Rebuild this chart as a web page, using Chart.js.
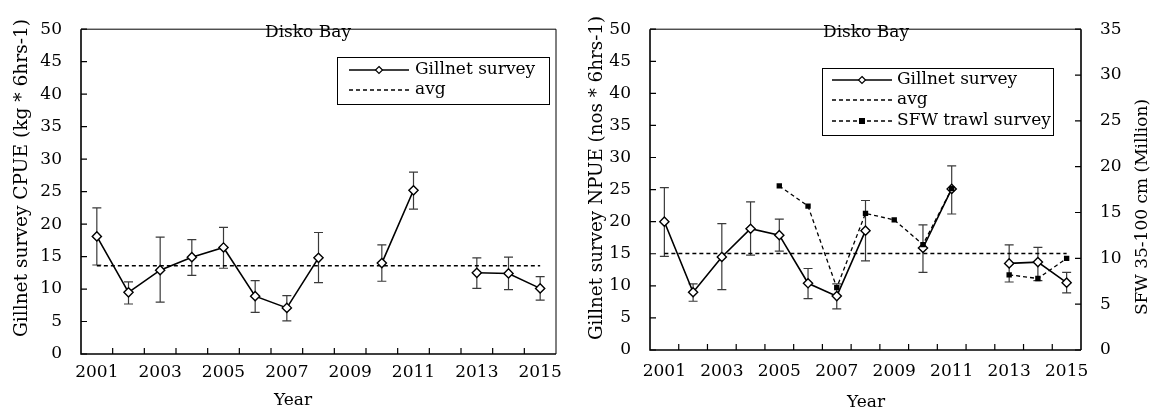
<!DOCTYPE html>
<html>
<head>
<meta charset="utf-8">
<title>Disko Bay gillnet survey</title>
<script src="https://cdn.jsdelivr.net/npm/chart.js@4.4.1/dist/chart.umd.min.js"></script>
<style>
    html, body { margin: 0; padding: 0; background: #fff; }
    #wrap { position: relative; width: 1156px; height: 414px; }
    .panel { position: absolute; top: 0; width: 578px; height: 414px; }
</style>
</head>
<body>
<div id="wrap">
    <div class="panel" style="left:0"><canvas id="cpueChart" width="578" height="414"></canvas></div>
    <div class="panel" style="left:578px"><canvas id="npueChart" width="578" height="414"></canvas></div>
</div>
<script>
"use strict";

var years = ['2001', '2002', '2003', '2004', '2005', '2006', '2007', '2008',
    '2009', '2010', '2011', '2012', '2013', '2014', '2015'];

// left panel - CPUE (kg * 6hrs-1)
var cpue = [18.1, 9.5, 12.9, 14.9, 16.4, 8.9, 7.1, 14.8, null, 14.0, 25.2, null, 12.5, 12.4, 10.1];
var cpueLow = [13.7, 7.7, 8.0, 12.1, 13.2, 6.4, 5.1, 11.0, null, 11.2, 22.3, null, 10.1, 9.9, 8.3];
var cpueHigh = [22.5, 11.1, 18.0, 17.6, 19.5, 11.3, 9.0, 18.7, null, 16.8, 28.0, null, 14.8, 14.9, 11.9];
var cpueAvg = [13.6, 13.6, 13.6, 13.6, 13.6, 13.6, 13.6, 13.6, 13.6, 13.6, 13.6, 13.6, 13.6, 13.6, 13.6];

// right panel - NPUE (nos * 6hrs-1) and SFW trawl index (Million)
var npue = [20.0, 9.0, 14.5, 18.9, 17.9, 10.4, 8.4, 18.6, null, 15.9, 25.1, null, 13.5, 13.7, 10.5];
var npueLow = [14.6, 7.6, 9.4, 14.8, 15.4, 8.0, 6.4, 13.9, null, 12.1, 21.2, null, 10.6, 10.8, 8.9];
var npueHigh = [25.3, 10.3, 19.7, 23.1, 20.4, 12.7, 10.3, 23.3, null, 19.5, 28.7, null, 16.4, 16.0, 12.1];
var npueAvg = [15.05, 15.05, 15.05, 15.05, 15.05, 15.05, 15.05, 15.05, 15.05, 15.05, 15.05, 15.05, 15.05, 15.05, 15.05];
var sfw = [null, null, null, null, 17.9, 15.7, 6.8, 14.9, 14.2, 11.5, 17.6, null, 8.2, 7.8, 10.0];

var leftTicks = [0, 5, 10, 15, 20, 25, 30, 35, 40, 45, 50];
var rightTicks = [0, 5, 10, 15, 20, 25, 30, 35];

var FONT = '"DejaVu Serif", "Liberation Serif", serif';
Chart.defaults.font.family = FONT;
Chart.defaults.font.size = 17;
Chart.defaults.color = '#000';

// error bars, inward tick marks, frame, texts and the boxed legend
var surveyDecor = {
    id: 'surveyDecor',
    beforeDatasetsDraw: function (chart, args, opts) {
        var ctx = chart.ctx;
        var xs = chart.scales.x;
        (opts.errors || []).forEach(function (err) {
            var ys = chart.scales[err.axis];
            ctx.save();
            ctx.strokeStyle = '#3a3a3a';
            ctx.lineWidth = 1.2;
            err.low.forEach(function (lo, i) {
                if (lo === null) return;
                var x = xs.getPixelForValue(i);
                var y1 = ys.getPixelForValue(lo);
                var y2 = ys.getPixelForValue(err.high[i]);
                ctx.beginPath();
                ctx.moveTo(x, y1); ctx.lineTo(x, y2);
                ctx.moveTo(x - 4.5, y1); ctx.lineTo(x + 4.5, y1);
                ctx.moveTo(x - 4.5, y2); ctx.lineTo(x + 4.5, y2);
                ctx.stroke();
            });
            ctx.restore();
        });
    },
    afterDraw: function (chart, args, opts) {
        var ctx = chart.ctx;
        var a = chart.chartArea;
        var xs = chart.scales.x;
        ctx.save();

        // frame
        ctx.strokeStyle = '#000';
        ctx.lineWidth = 1;
        ctx.beginPath();
        ctx.moveTo(a.left, a.top); ctx.lineTo(a.right, a.top);
        if (!chart.scales.y1) { ctx.lineTo(a.right, a.bottom); }
        ctx.stroke();
        ctx.lineWidth = 1.6;
        ctx.beginPath();
        ctx.moveTo(a.left, a.top); ctx.lineTo(a.left, a.bottom); ctx.lineTo(a.right, a.bottom);
        if (chart.scales.y1) { ctx.moveTo(a.right, a.top); ctx.lineTo(a.right, a.bottom); }
        ctx.stroke();

        // inward tick marks
        ctx.lineWidth = 1.2;
        ctx.beginPath();
        for (var i = 1; i < years.length; i++) {
            var bx = (xs.getPixelForValue(i - 1) + xs.getPixelForValue(i)) / 2;
            ctx.moveTo(bx, a.bottom); ctx.lineTo(bx, a.bottom - 6);
        }
        chart.scales.y.ticks.forEach(function (t) {
            var ty = chart.scales.y.getPixelForValue(t.value);
            ctx.moveTo(a.left, ty); ctx.lineTo(a.left + 6, ty);
        });
        if (chart.scales.y1) {
            chart.scales.y1.ticks.forEach(function (t) {
                var ty = chart.scales.y1.getPixelForValue(t.value);
                ctx.moveTo(a.right, ty); ctx.lineTo(a.right - 6, ty);
            });
        }
        ctx.stroke();

        // titles and labels
        ctx.fillStyle = '#000';
        (opts.texts || []).forEach(function (t) {
            ctx.save();
            ctx.font = (t.size || 17) + 'px ' + FONT;
            ctx.translate(t.x, t.y);
            if (t.rotate) ctx.rotate(t.rotate);
            ctx.textAlign = 'center';
            ctx.textBaseline = t.baseline || 'alphabetic';
            ctx.fillText(t.text, 0, 0);
            ctx.restore();
        });

        // legend box
        var lg = opts.legend;
        if (lg) {
            ctx.fillStyle = '#fff';
            ctx.fillRect(lg.x, lg.y, lg.w, lg.h);
            ctx.strokeStyle = '#000';
            ctx.lineWidth = 1;
            ctx.strokeRect(lg.x + 0.5, lg.y + 0.5, lg.w, lg.h);
            lg.rows.forEach(function (dsIndex, r) {
                var ds = chart.data.datasets[dsIndex];
                var ry = lg.rowY[r];
                ctx.save();
                ctx.strokeStyle = '#000';
                ctx.lineWidth = 1.4;
                ctx.setLineDash(ds.borderDash || []);
                ctx.beginPath();
                ctx.moveTo(lg.x0, ry); ctx.lineTo(lg.x1, ry);
                ctx.stroke();
                ctx.setLineDash([]);
                var mx = (lg.x0 + lg.x1) / 2;
                if (ds.pointStyle === 'rectRot') {
                    ctx.fillStyle = '#fff';
                    ctx.lineWidth = 1.2;
                    ctx.beginPath();
                    ctx.moveTo(mx, ry - 3.5); ctx.lineTo(mx + 3.5, ry);
                    ctx.lineTo(mx, ry + 3.5); ctx.lineTo(mx - 3.5, ry);
                    ctx.closePath();
                    ctx.fill(); ctx.stroke();
                } else if (ds.pointStyle === 'rect') {
                    ctx.fillStyle = '#000';
                    ctx.fillRect(mx - 3, ry - 3, 6, 6);
                }
                ctx.fillStyle = '#000';
                ctx.font = '17px ' + FONT;
                ctx.textAlign = 'left';
                ctx.textBaseline = 'middle';
                ctx.fillText(ds.label, lg.textX, ry);
                ctx.restore();
            });
        }
        ctx.restore();
    }
};

function xScale(height, pad) {
    return {
        offset: true,
        grid: { display: false, drawTicks: false },
        border: { display: false },
        ticks: {
            autoSkip: false,
            maxRotation: 0,
            padding: pad,
            callback: function (value, index) {
                return index % 2 === 0 ? years[index] : '';
            }
        },
        afterFit: function (s) { s.height = height; }
    };
}

function yScale(ticks, position, width) {
    return {
        position: position,
        min: ticks[0],
        max: ticks[ticks.length - 1],
        grid: { display: false, drawTicks: false },
        border: { display: false },
        ticks: { stepSize: ticks[1] - ticks[0], padding: 19 },
        afterBuildTicks: function (s) {
            s.ticks = ticks.map(function (v) { return { value: v }; });
        },
        afterFit: function (s) { s.width = width; }
    };
}

var gillnetStyle = {
    borderColor: '#000',
    borderWidth: 1.6,
    pointStyle: 'rectRot',
    pointRadius: 4.6,
    pointBackgroundColor: '#fff',
    pointBorderColor: '#000',
    pointBorderWidth: 1.4,
    tension: 0,
    order: 1
};

var avgStyle = {
    borderColor: '#000',
    borderWidth: 1.5,
    borderDash: [4, 3],
    pointRadius: 0,
    tension: 0,
    order: 2
};

new Chart(document.getElementById('cpueChart'), {
    type: 'line',
    data: {
        labels: years,
        datasets: [
            Object.assign({ label: 'Gillnet survey', data: cpue }, gillnetStyle),
            Object.assign({ label: 'avg', data: cpueAvg }, avgStyle)
        ]
    },
    options: {
        responsive: false,
        animation: false,
        layout: { padding: { top: 13, right: 22, left: 0, bottom: 0 } },
        plugins: {
            legend: { display: false },
            tooltip: { enabled: false },
            surveyDecor: {
                errors: [{ axis: 'y', low: cpueLow, high: cpueHigh }],
                texts: [
                    { text: 'Disko Bay', x: 308, y: 37 },
                    { text: 'Year', x: 293, y: 405 },
                    { text: 'Gillnet survey CPUE (kg * 6hrs-1)', x: 22, y: 178, size: 18.6, rotate: -Math.PI / 2, baseline: 'middle' }
                ],
                legend: { x: 337, y: 57, w: 212, h: 47, rowY: [70, 90], x0: 349, x1: 409, textX: 415, rows: [0, 1] }
            }
        },
        scales: {
            x: xScale(60, 8),
            y: yScale(leftTicks, 'left', 81)
        }
    },
    plugins: [surveyDecor]
});

new Chart(document.getElementById('npueChart'), {
    type: 'line',
    data: {
        labels: years,
        datasets: [
            Object.assign({ label: 'Gillnet survey', data: npue, yAxisID: 'y' }, gillnetStyle),
            Object.assign({ label: 'avg', data: npueAvg, yAxisID: 'y' }, avgStyle),
            {
                label: 'SFW trawl survey',
                data: sfw,
                yAxisID: 'y1',
                borderColor: '#000',
                borderWidth: 1.3,
                borderDash: [4, 3],
                pointStyle: 'rect',
                pointRadius: 3.8,
                pointBackgroundColor: '#000',
                pointBorderColor: '#000',
                pointBorderWidth: 0,
                tension: 0,
                order: 0
            }
        ]
    },
    options: {
        responsive: false,
        animation: false,
        layout: { padding: { top: 12, right: 0, left: 0, bottom: 0 } },
        plugins: {
            legend: { display: false },
            tooltip: { enabled: false },
            surveyDecor: {
                errors: [{ axis: 'y', low: npueLow, high: npueHigh }],
                texts: [
                    { text: 'Disko Bay', x: 288, y: 37 },
                    { text: 'Year', x: 288, y: 407 },
                    { text: 'Gillnet survey NPUE (nos * 6hrs-1)', x: 19, y: 178, size: 18.3, rotate: -Math.PI / 2, baseline: 'middle' },
                    { text: 'SFW 35-100 cm (Million)', x: 565, y: 207, rotate: -Math.PI / 2, baseline: 'middle' }
                ],
                legend: { x: 244, y: 68, w: 231, h: 67, rowY: [80, 100, 121], x0: 254, x1: 314, textX: 319, rows: [0, 1, 2] }
            }
        },
        scales: {
            x: xScale(64, 11),
            y: yScale(leftTicks, 'left', 72),
            y1: yScale(rightTicks, 'right', 75)
        }
    },
    plugins: [surveyDecor]
});
</script>
</body>
</html>
